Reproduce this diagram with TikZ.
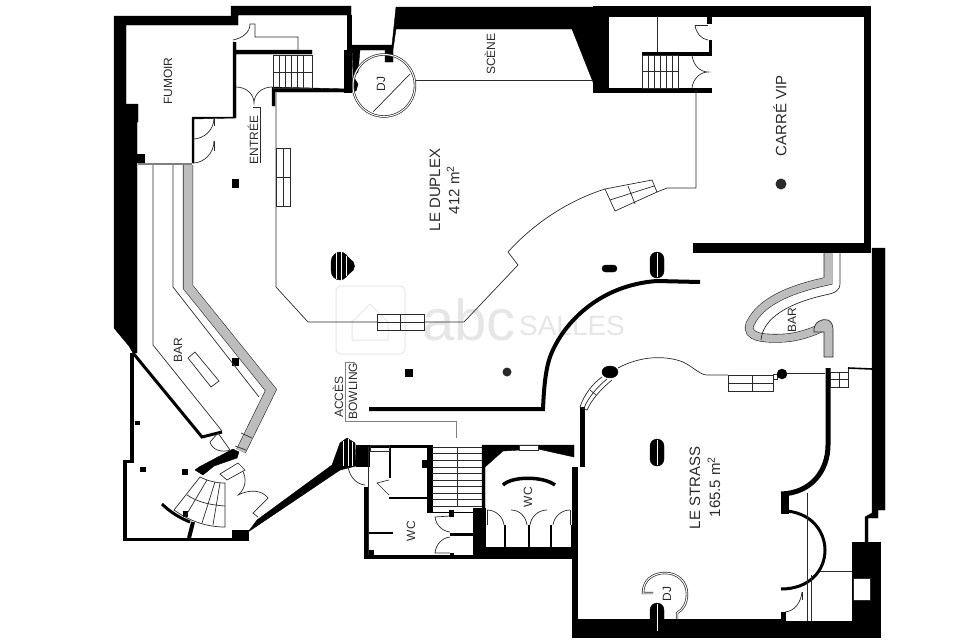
\documentclass[tikz,border=0pt]{standalone}
\usepackage{fontspec}
\setmainfont{Liberation Sans}
\definecolor{bargray}{HTML}{BDBDBD}
\definecolor{markgray}{HTML}{E6E6E6}
\definecolor{inkgray}{HTML}{2A2A2A}
\tikzset{
    wall/.style={fill=black,draw=black,line width=0.4pt},
    fine/.style={draw=inkgray,line width=0.7pt},
    partition/.style={draw=black,line width=2.2pt},
    barband/.style={draw=inkgray,line width=0.6pt,double=bargray,double distance=7.5pt},
    roomlabel/.style={rotate=90,text=inkgray,inner sep=0pt,font=\fontsize{12}{14}\selectfont},
    biglabel/.style={roomlabel,font=\fontsize{15}{17}\selectfont}
}
\begin{document}
\begin{tikzpicture}[x=1pt,y=-1pt]
    \useasboundingbox (0,0) rectangle (960,640);
    \begin{scope}[text=markgray]
        \draw[markgray,line width=1pt,rounded corners=5pt] (336,286) rectangle (405,354);
        \draw[markgray,line width=1pt] (352,322) -- (370,304) -- (388,322) -- (388,340) -- (352,340) -- cycle;
        \node[inner sep=0pt,font=\fontsize{58}{60}\selectfont] (markabc) at (469,320) {abc};
        \node[inner sep=0pt,font=\fontsize{28}{30}\selectfont] (marksalles) at (572,326) {SALLES};
    \end{scope}
    % outer walls
    \begin{scope}
        \draw[wall] (114,16) -- (231,16) -- (231,6) -- (351,6) -- (351,15) -- (238,15) -- (238,25) -- (126,25)
        -- (126,104) -- (138,104) -- (138,122) -- (137,122) -- (137,353) -- (133,353) -- (129,346) -- (114,328) -- cycle;
        \draw[wall] (347,15) -- (351,15) -- (351,92) -- (344,92) -- (344,50) -- (347,50) -- cycle;
        \draw[wall] (396,7) -- (593,7) -- (593,82) -- (572,29) -- (396,29) -- (393,50) -- (393,62) -- (385,62) -- (385,50)
        -- (360,50) -- (358,72) -- (353,77) -- (352,45) -- (392,45) -- cycle;
        \draw[wall] (353,76) -- (358,84) -- (356,91) -- (351,91) -- cycle;
        \draw[wall] (593,6) -- (870,6) -- (870,252) -- (693,252) -- (693,243) -- (864,243) -- (864,16) -- (608,16)
        -- (608,88) -- (711,88) -- (711,92) -- (593,92) -- cycle;
        \draw[wall] (707,16) -- (711,16) -- (711,23) -- (707,23) -- cycle;
        \draw[wall] (709,40) -- (711,40) -- (711,55) -- (642,55) -- (642,52) -- (709,52) -- cycle;
        \draw[wall] (872,248) -- (885,248) -- (885,510) -- (878,510) -- (878,518) -- (868,518) -- (868,542) -- (865,542)
        -- (865,517) -- (872,513) -- cycle;
        \draw[wall] (572,467) -- (577,467) -- (577,619) -- (785,619) -- (785,621) -- (880,621) -- (880,637) -- (572,637) -- cycle;
        \draw[wall] (852,542) rectangle (880,622);
        \draw[fine,fill=white] (853,578) rectangle (870,600);
        \draw[wall] (130,353) -- (133,353) -- (133,462) -- (126,462) -- (126,538) -- (232,538) -- (232,530) -- (248,530)
        -- (248,540) -- (123,540) -- (123,460) -- (130,460) -- cycle;
        \draw[wall] (356,445) -- (369,445) -- (369,466) -- (356,466) -- cycle;
        \draw[wall] (248,532) -- (257,520) -- (332,465) -- (340,443) -- (347,438) -- (355,443) -- (356,466) -- (340,470) -- cycle;
        \draw[wall] (364,487) -- (368,487) -- (368,555) -- (574,555) -- (574,558) -- (364,558) -- cycle;
    \end{scope}
    % inner partitions
    \draw[wall] (233,42) -- (236,42) -- (236,50) -- (312,50) -- (312,54) -- (236,54) -- (236,118) -- (194,119)
    -- (194,163) -- (192,163) -- (192,117) -- (233,117) -- cycle;
    \draw[wall] (272,87) -- (350,89) -- (350,92) -- (275,92) -- (275,106) -- (272,106) -- cycle;
    \draw[wall] (137,154) rectangle (144,162);
    \draw[wall] (232,179) rectangle (238,187);
    \draw[wall] (232,358) rectangle (238,365);
    \draw[wall] (135,421) rectangle (139,424);
    \draw[wall] (140,467) rectangle (145,471);
    \draw[wall] (182,469) rectangle (187,474);
    \draw[wall] (183,511) rectangle (187,516);
    \draw[wall] (405,369) rectangle (412,376);
    \draw[partition,line width=3pt] (133,353) -- (202,437) -- (222,432);
    \draw[partition,line width=4pt] (369,409) -- (543,409) .. controls (544,385) and (546,365) .. (552,352)
    .. controls (565,322) and (600,285) .. (657,281) -- (700,282);
    \draw[partition,line width=5pt] (582,407) -- (582,467);
    \draw[partition,line width=3pt] (574,467) -- (574,557);
    \draw[partition,line width=5pt] (828,368) -- (828,445) .. controls (828,470) and (812,493) .. (781,494);
    \draw[partition,line width=3pt] (787,511) .. controls (815,514) and (825,535) .. (825,550)
    .. controls (825,570) and (810,589) .. (781,589);
    \draw[wall] (781,492) rectangle (788,513);
    \draw[wall] (781,612) rectangle (785,620);
    \draw[partition,line width=3pt] (162,504) .. controls (170,512) and (180,518) .. (190,522);
    \draw[partition,line width=4pt] (193,522) -- (189,538);
    \draw[wall] (195,470) -- (199,467) -- (233,449) -- (239,452) -- (237,458) -- (214,466) -- (203,475) -- cycle;
    % wc
    \draw[wall] (369,445) -- (432,445) -- (432,512) -- (473,512) -- (473,508) -- (485,508) -- (485,547) -- (574,547)
    -- (574,558) -- (473,558) -- (473,512) -- (427,512) -- (427,447) -- (369,447) -- cycle;
    \draw[wall] (482,445) -- (574,445) -- (574,457) -- (538,449) -- (503,451) -- (485,467) -- (485,508) -- (482,508) -- cycle;
    \draw[wall] (422,460) rectangle (427,467);
    \draw[partition,line width=1.6pt] (390,447) -- (390,478);
    \draw[partition,line width=2.2pt] (389,498) -- (427,498);
    \draw[partition,line width=2.2pt] (369,533) -- (393,533);
    \draw[partition,line width=3pt] (450,534) -- (473,534);
    \draw[wall] (449,510) rectangle (453,516);
    \draw[wall] (450,553) rectangle (453,556);
    \draw[wall] (368,550) rectangle (373,555);
    \draw[partition,line width=3.5pt] (503,485) .. controls (512,476) and (543,476) .. (555,485);
    \draw[partition,line width=1.8pt] (505,525) -- (505,547);
    \draw[partition,line width=1.8pt] (529,525) -- (529,547);
    \draw[partition,line width=1.8pt] (551,525) -- (551,547);
    \draw[partition,line width=1.8pt] (572,525) -- (572,547);
    \draw[fine] (368,447) -- (368,555);
    \draw[fine] (369,451) -- (389,451);
    \draw[fine] (389,480) -- (377,483) -- (389,495);
    \draw[fine] (348,467) .. controls (350,477) and (356,484) .. (365,485);
    \draw[fine] (450,516) -- (435,517) .. controls (436,525) and (442,531) .. (450,532);
    \draw[fine] (450,553) -- (435,553) .. controls (436,544) and (442,538) .. (450,537);
    \draw[fine] (487,510) .. controls (496,510) and (503,517) .. (504,525);
    \draw[fine] (511,510) .. controls (520,510) and (526,517) .. (527,525);
    \draw[fine] (547,510) .. controls (538,510) and (531,517) .. (530,525);
    \draw[fine] (570,510) .. controls (561,510) and (554,517) .. (553,525);
    \draw[fine] (487,510) -- (487,525);
    \draw[fine] (570,510) -- (570,525);
    \draw[fine,fill=white] (519,445) rectangle (538,450);
    % stairs
    \draw[fine] (432,447) -- (482,447) (432,453) -- (482,453) (432,460) -- (482,460) (432,467) -- (482,467)
    (432,473) -- (482,473) (432,480) -- (482,480) (432,486) -- (482,486) (432,493) -- (482,493)
    (432,499) -- (482,499) (432,506) -- (482,506) (457,447) -- (457,506);
    \draw[fine] (273,55) rectangle (312,88);
    \draw[fine] (279,55) -- (279,88) (285,55) -- (285,88) (291,55) -- (291,88) (297,55) -- (297,88) (303,55) -- (303,88)
    (273,72) -- (312,72);
    \draw[fine] (642,55) rectangle (678,88);
    \draw[fine] (648,55) -- (648,88) (654,55) -- (654,88) (660,55) -- (660,88) (666,55) -- (666,88) (672,55) -- (672,88)
    (642,71) -- (678,71);
    \draw[fine] (276,148) rectangle (290,206);
    \draw[fine] (276,177) -- (290,177) (283,148) -- (283,206);
    \draw[fine] (377,314) rectangle (424,330);
    \draw[fine] (377,322) -- (424,322) (400,314) -- (400,330);
    \draw[fine] (605,189) -- (652,180) -- (657,192) -- (615,211) -- cycle;
    \draw[fine] (610,200) -- (654,186) (628,186) -- (635,204);
    \draw[fine] (728,375) rectangle (773,391);
    \draw[fine] (728,383) -- (773,383) (752,375) -- (752,391);
    \draw[fine] (830,372) rectangle (848,387);
    \draw[fine] (830,379) -- (848,379) (839,372) -- (839,387);
    \draw[fine] (370,445) rectangle (389,451);
    % spiral stair
    \draw[fine] (200,477) .. controls (208,481) and (216,483) .. (225,483) -- (225,527)
    .. controls (205,527) and (188,520) .. (174,510) -- cycle;
    \draw[fine] (187,495) .. controls (199,503) and (212,505) .. (225,506);
    \draw[fine] (207,480) -- (185,517) (215,482) -- (202,523) (220,483) -- (213,525);
    % duplex and strass outlines
    \draw[fine] (276,93) -- (276,287) -- (308,322) -- (377,322) (424,322) -- (464,322) -- (518,265) -- (508,252)
    .. controls (535,222) and (570,200) .. (605,189);
    \draw[fine] (657,192) -- (667,188) -- (696,188) -- (696,90);
    \draw[fine] (415,80) -- (593,80);
    \draw[fine] (618,368) .. controls (640,356) and (665,355) .. (683,362) .. controls (692,366) and (700,375) .. (707,375) -- (728,375);
    \draw[fine] (787,373) -- (825,373);
    \draw[fine,fill=white] (773,374) rectangle (777,379);
    \draw[fine] (602,377) .. controls (592,384) and (584,395) .. (580,407) -- (587,410)
    .. controls (592,399) and (601,389) .. (612,380);
    \draw[fine] (607,379) .. controls (597,387) and (588,398) .. (584,408);
    \draw[fine] (590,390) -- (596,395);
    % doors
    \draw[fine] (233,40) .. controls (243,38) and (250,32) .. (250,24) -- (255,24) -- (255,37) -- (298,37) -- (298,50);
    \draw[fine] (236,87) .. controls (246,87) and (254,94) .. (254,103) .. controls (254,94) and (262,87) .. (272,87);
    \draw[fine] (193,139) .. controls (204,139) and (214,130) .. (214,118);
    \draw[fine] (193,163) .. controls (204,163) and (214,153) .. (214,141);
    \draw[fine] (214,118) -- (214,126) (214,141) -- (214,151);
    \draw[fine] (692,55) .. controls (693,65) and (700,72) .. (708,72) .. controls (700,72) and (693,79) .. (692,88);
    \draw[fine] (695,25) .. controls (696,33) and (701,39) .. (708,40);
    \draw[fine] (695,25) -- (708,25);
    \draw[fine] (657,16) -- (657,52);
    \draw[fine] (218,433) -- (230,450) .. controls (222,453) and (212,450) .. (210,442) -- (218,433);
    \draw[fine] (238,465) .. controls (247,473) and (248,487) .. (238,495) .. controls (250,489) and (262,490) .. (268,498)
    -- (253,513) -- (258,517);
    \draw[fine,fill=white] (220,474) -- (238,463) -- (245,470) -- (227,480) -- cycle;
    \draw[fine] (802,592) .. controls (801,602) and (795,611) .. (785,612);
    \draw[fine] (802,592) -- (802,600);
    \draw[fine] (807,493) -- (807,621) (811,575) -- (811,621);
    \draw[fine,line width=1pt] (820,571) -- (852,571);
    \draw[fine] (848,368) -- (848,387);
    \draw[partition,line width=1.6pt] (848,368) -- (872,369);
    % access line
    \draw[fine,draw=gray] (355,362) -- (345,362) -- (345,421) -- (456,421) -- (456,438);
    \draw[fine] (253,107) -- (260,107) -- (260,163);
    % bars
    \draw[fine] (153,165) -- (153,345) -- (222,431);
    \draw[fine] (173,165) -- (173,287) -- (259,397);
    \draw[barband,double distance=9pt] (188,165) -- (188,287) -- (271,390) -- (241,451);
    \draw[fine] (241,433) -- (252,438) (235,446) -- (246,450);
    \draw[fine,draw=gray,line width=2pt] (138,163.5) -- (192,163.5);
    \draw[fine] (195,352) -- (219,381) -- (211,387) -- (188,358) -- cycle;
    \draw[barband] (828,253) -- (828,281) .. controls (800,287) and (762,298) .. (750,324)
    .. controls (745,338) and (765,339) .. (785,338) .. controls (798,337) and (810,333) .. (821,328);
    \draw[fine,fill=bargray] (814,332) .. controls (813,322) and (822,318) .. (828,320) .. controls (832,322) and (833,326) .. (833,330)
    -- (833,357) -- (824,357) -- (824,332) -- cycle;
    \draw[fine] (840,253) -- (840,283) .. controls (840,291) and (835,293) .. (825,295)
    .. controls (790,303) and (763,317) .. (761,340);
    % dj booths
    \draw[fine,double=white,double distance=1pt] (384,85.5) circle (31);
    \draw[fine] (373,112) -- (410,74);
    \draw[fine,double=white,double distance=1pt] (653,593) -- (643,593) .. controls (643,580) and (653,573) .. (665,573)
    .. controls (678,573) and (687,582) .. (687,594) .. controls (687,603) and (683,610) .. (677,613) -- (677,619);
    % pillars
    \draw[wall,rounded corners=7pt] (650,252) rectangle (664,278);
    \draw[wall,rounded corners=7pt] (650,439) rectangle (664,466);
    \draw[wall,rounded corners=7pt] (650,603) rectangle (664,632);
    \draw[wall,rounded corners=3.5pt] (602,265) rectangle (617,272);
    \draw[wall] (610,372) ellipse (8 and 6);
    \draw[wall] (782,374) circle (5);
    \draw[fill=inkgray,draw=none] (781,184) circle (5.5);
    \draw[fill=inkgray,draw=none] (507,372) circle (4.5);
    \draw[wall] (331,262) .. controls (331,255) and (337,252) .. (340,252) .. controls (346,252) and (347,257) .. (350,259)
    .. controls (356,262) and (356,270) .. (350,273) .. controls (347,275) and (345,280) .. (340,280)
    .. controls (336,280) and (331,277) .. (331,270) -- cycle;
    \draw[white,line width=0.5pt] (336,253) -- (336,279) (341,252) -- (341,280) (346,256) -- (346,276);
    \draw[white,line width=0.5pt] (343,441) -- (343,466) (348,439) -- (348,466) (352,442) -- (352,466);
    \draw[white,line width=0.4pt] (657,253) -- (657,277) (657,440) -- (657,465) (657,604) -- (657,631);
    % labels
    \node[biglabel] (duplexname) at (435,190) {LE DUPLEX};
    \node[biglabel] (duplexarea) at (453,190) {412 m\textsuperscript{2}};
    \node[biglabel] (carrevip) at (780,116) {CARRÉ VIP};
    \node[biglabel] (strassname) at (695,488) {LE STRASS};
    \node[biglabel] (strassarea) at (714,487) {165.5 m\textsuperscript{2}};
    \node[roomlabel] (scene) at (490,54) {SCÈNE};
    \node[roomlabel] (fumoir) at (168,81) {FUMOIR};
    \node[roomlabel] (entree) at (253,140) {ENTRÉE};
    \node[roomlabel] (barleft) at (178,350) {BAR};
    \node[roomlabel] (barright) at (792,320) {BAR};
    \node[roomlabel] (acces) at (338,397) {ACCÈS};
    \node[roomlabel] (bowling) at (353,391) {BOWLING};
    \node[roomlabel] (wcleft) at (411,531) {WC};
    \node[roomlabel] (wcright) at (528,497) {WC};
    \node[roomlabel] (djduplex) at (381,84) {DJ};
    \node[roomlabel] (djstrass) at (667,594) {DJ};
\end{tikzpicture}
\end{document}
